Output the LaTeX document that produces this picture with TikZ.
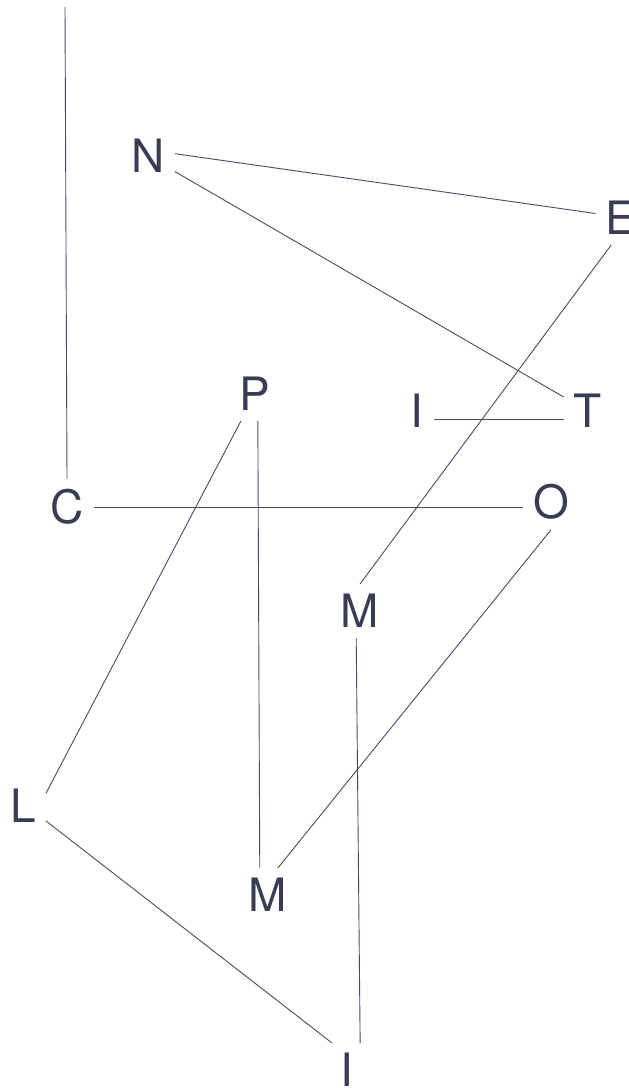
\documentclass[tikz,border=0pt]{standalone}
\usepackage{fontspec}
\setmainfont{TeX Gyre Heros}
\usepackage{tikz}
\usetikzlibrary{calc}
\definecolor{inkSlate}{RGB}{58,60,84}
\definecolor{lineSlate}{RGB}{72,74,98}

\begin{document}
\begin{tikzpicture}[x=1pt,y=-1pt,
    letter/.style={text=inkSlate, inner sep=10pt, font=\fontsize{46}{50}\selectfont},
    link/.style={lineSlate, line width=0.9pt}]
    \useasboundingbox (0,0) rectangle (629,1088);

    % letters
    \node[letter] (N)  at (148,156)  {N};
    \node[letter] (E)  at (621,218)  {E};
    \node[letter] (P)  at (255,394)  {P};
    \node[letter] (Ia) at (417,411)  {I};
    \node[letter] (T)  at (588,411)  {T};
    \node[letter] (C)  at (67,507)   {C};
    \node[letter] (O)  at (551,502)  {O};
    \node[letter] (Ma) at (360,611)  {M};
    \node[letter] (L)  at (23,806)   {L};
    \node[letter] (Mb) at (268,895)  {M};
    \node[letter] (Ib) at (347,1070) {I};
    \coordinate (top) at (65,7);

    % links
    \draw[link] (top) -- (C.north);
    \draw[link] (N.5) -- (E.170);
    \draw[link] (N) -- (T);
    \draw[link] (E.-110) -- (Ma.north);
    \draw[link] ([yshift=-8pt]Ia.east) -- ([yshift=-8pt]T.west);
    \draw[link] (C.east) -- (C.east -| O.west);
    \draw[link] (P) -- (L.29);
    \draw[link] (P.-84) -- (Mb.107);
    \draw[link] (O.south) -- (Mb.70);
    \draw[link] (Ma.-98) -- (Ib.64);
    \draw[link] (L.-33) -- (Ib.119);
\end{tikzpicture}
\end{document}
